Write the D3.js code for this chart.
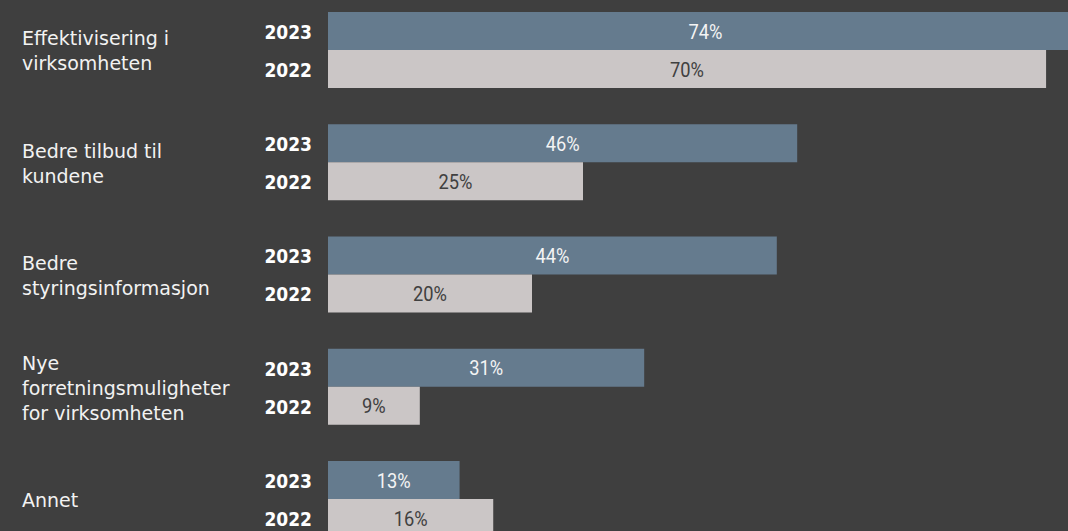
<!DOCTYPE html>
<html>
<head>
<meta charset="utf-8">
<script src="https://cdn.jsdelivr.net/npm/d3@7/dist/d3.min.js"></script>
<style>
  html, body { margin: 0; padding: 0; background: #3f3f3f; overflow: hidden; }
  svg { display: block; }
</style>
</head>
<body>
<svg id="chart" width="1068" height="531"></svg>
<script>
// ---- data ----
const categories = [
  "Effektivisering i|virksomheten",
  "Bedre tilbud til|kundene",
  "Bedre|styringsinformasjon",
  "Nye|forretningsmuligheter|for virksomheten",
  "Annet"
];
const years = ["2023", "2022"];
const values2023 = [74, 46, 44, 31, 12.9];
const values2022 = [70.4, 25, 20, 9, 16.2];

// ---- layout ----
const W = 1068, H = 531;
const svg = d3.select("#chart");
svg.append("rect").attr("width", W).attr("height", H).attr("fill", "#3f3f3f");

const rows = categories.map((c, i) => ({
  cat: c,
  vals: [{ year: "2023", v: values2023[i] }, { year: "2022", v: values2022[i] }]
}));

const y = d3.scaleBand().domain(categories).range([12, 537]).paddingInner(0.323).paddingOuter(0);
const yInner = d3.scaleBand().domain(years).range([0, y.bandwidth()]);
const x = d3.scaleLinear().domain([0, 100]).range([328, 1348]);

const colors = { "2023": "#657b8e", "2022": "#cbc6c6" };
const textColors = { "2023": "#f4f4f4", "2022": "#404040" };

const g = svg.selectAll("g.row").data(rows).enter().append("g")
  .attr("class", "row")
  .attr("transform", d => `translate(0,${y(d.cat)})`);

// bars
g.selectAll("rect.bar").data(d => d.vals).enter().append("rect")
  .attr("class", "bar")
  .attr("x", x(0))
  .attr("y", d => yInner(d.year))
  .attr("width", d => x(d.v) - x(0))
  .attr("height", yInner.bandwidth())
  .attr("fill", d => colors[d.year]);

// value labels (narrowed Roboto)
g.selectAll("text.val").data(d => d.vals).enter().append("text")
  .attr("class", "val")
  .attr("transform", d => `translate(${(x(0) + x(d.v)) / 2},${yInner(d.year) + yInner.bandwidth() / 2}) scale(0.87,1)`)
  .attr("dy", "0.36em")
  .attr("text-anchor", "middle")
  .attr("font-family", "Roboto, 'DejaVu Sans Condensed', sans-serif")
  .attr("font-size", 21)
  .attr("fill", d => textColors[d.year])
  .text(d => Math.round(d.v) + "%");

// year labels
g.selectAll("text.yr").data(d => d.vals).enter().append("text")
  .attr("class", "yr")
  .attr("x", 312)
  .attr("y", d => yInner(d.year) + yInner.bandwidth() / 2)
  .attr("dy", "0.42em")
  .attr("text-anchor", "end")
  .attr("font-family", "'DejaVu Sans Condensed', 'DejaVu Sans', sans-serif")
  .attr("font-weight", "bold")
  .attr("font-size", 19)
  .attr("fill", "#ffffff")
  .text(d => d.year);

// category labels
const lineH = 25;
g.each(function(d) {
  const lines = d.cat.split("|");
  const t = d3.select(this).append("text")
    .attr("font-family", "'DejaVu Sans', sans-serif")
    .attr("font-size", 19)
    .attr("fill", "#f2f2f2");
  const c = y.bandwidth() / 2 + 1;
  const start = c - (lines.length - 1) * lineH / 2;
  lines.forEach((ln, i) => {
    t.append("tspan").attr("x", 22).attr("y", start + i * lineH).attr("dy", "0.36em").text(ln);
  });
});
</script>
</body>
</html>
